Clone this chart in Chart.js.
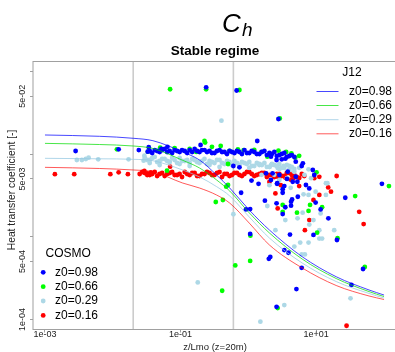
<!DOCTYPE html>
<html lang="en">
<head>
<meta charset="UTF-8">
<title>Ch - Stable regime</title>
<script src="https://cdn.jsdelivr.net/npm/chart.js"></script>
<style>
  html, body { margin: 0; padding: 0; background: #fff; overflow: hidden; }
  #wrap { width: 400px; height: 352px; }
</style>
</head>
<body>
<div id="wrap"><canvas id="chart" width="400" height="352"></canvas></div>
<script>
// ---- data ----
const seriesNames = ['z0=0.98', 'z0=0.66', 'z0=0.29', 'z0=0.16'];
const seriesColors = ['#0000ff', '#00ff00', '#add8e6', '#ff0000'];
const curveColors = ['rgba(0,0,255,0.72)', 'rgba(0,220,0,0.72)', 'rgba(150,200,225,0.75)', 'rgba(255,0,0,0.65)'];

const xTickValues = [0.001, 0.1, 10];
const xTickLabels = ['1e-03', '1e-01', '1e+01'];
const yTickValues = [1e-4, 5e-4, 1e-3, 5e-3, 1e-2, 5e-2, 1e-1];
const yTickLabels = ['1e-04', '5e-04', '', '5e-03', '', '5e-02', ''];
const refLines = [0.02, 0.6];

// J12 model curves
const curveX = [0.001, 0.0064, 0.02, 0.039, 0.107, 0.19, 0.34, 0.53, 1.03, 2.04, 6.2, 19.7, 60, 100];
const j12_098 = [0.01698, 0.01637, 0.01549, 0.01449, 0.0106, 0.00846, 0.00557, 0.00388, 0.0021, 0.001205, 0.000573, 0.000328, 0.000227, 0.000197];
const j12_066 = [0.01345, 0.01302, 0.0125, 0.01166, 0.0084, 0.00678, 0.00485, 0.00357, 0.00194, 0.00111, 0.000537, 0.000312, 0.000217, 0.000189];
const j12_029 = [0.00887, 0.00875, 0.00863, 0.0083, 0.00641, 0.00528, 0.00403, 0.00311, 0.00173, 0.000964, 0.000481, 0.000287, 0.000206, 0.000181];
const j12_016 = [0.0069, 0.00668, 0.00641, 0.00611, 0.00446, 0.00388, 0.00319, 0.00255, 0.00146, 0.000794, 0.000419, 0.000257, 0.000192, 0.000174];

// COSMO points [z/Lmo, Ch]
const cosmo_098 = [
  [0.00283,0.01087],[0.0122,0.0114],[0.0242,0.01117],[0.0327,0.01066],[0.0339,0.0121],[0.052,0.0115],[0.064,0.0122],
  [0.035,0.01087],[0.0381,0.01028],[0.0415,0.01117],[0.0451,0.01087],[0.0491,0.01057],[0.0534,0.01117],[0.0582,0.01149],
  [0.0633,0.01057],[0.0689,0.01087],[0.075,0.01028],[0.0816,0.01117],[0.0888,0.01087],[0.0967,0.01057],[0.105,0.01117],
  [0.115,0.01087],[0.125,0.01028],[0.136,0.01117],[0.148,0.01057],[0.161,0.01149],[0.175,0.01087],[0.19,0.01057],
  [0.207,0.01117],[0.225,0.01117],[0.245,0.01057],[0.267,0.01087],[0.29,0.01028],[0.316,0.01028],[0.344,0.01087],
  [0.375,0.01117],[0.408,0.01057],[0.444,0.01057],[0.483,0.01],[0.526,0.01087],[0.572,0.01057],[0.622,0.01028],
  [0.677,0.01087],[0.737,0.01057],[0.802,0.01],[0.873,0.01117],[0.95,0.01028],[1.03,0.01028],[1.12,0.01087],
  [1.22,0.01057],[1.33,0.01],[1.45,0.01],[1.58,0.01057],[1.72,0.01087],[1.87,0.00972],[2.04,0.01028],[2.22,0.01],
  [2.41,0.01057],[2.62,0.00946],[2.86,0.00972],[3.11,0.01],[3.38,0.01028],[3.68,0.0092],[4.01,0.00946],[4.36,0.00972],[4.75,0.0092],
  [0.197,0.01285],[0.238,0.064],[0.67,0.0586],[1.35,0.01437],[0.6,0.00716],[0.737,0.0069],[1.11,0.00477],[1.41,0.00436],
  [2.77,0.0265],[2.15,0.00928],[2.6,0.00846],[3.1,0.00863],[3.5,0.00877],[4.99,0.00807],[6.1,0.00716],[7.89,0.00384],
  [93,0.00436],[2.6,0.00253],[4.25,0.00237],[4.4,0.00282],[5.35,0.00304],[9.8,0.00259],[3.2,0.00188],[11.6,0.00214],
  [15.1,0.00167],[4.1,0.00106],[9.1,0.00105],[20.2,0.000912],[3.38,0.00069],[3.9,0.00064],[2.1,0.00057],[6.1,0.00042],
  [49,0.000407],[33,0.000261],[5.1,0.000233],[2.6,0.000142],[26.8,0.00296],[0.78,0.0034],[0.92,0.00214],[1.06,0.00216],
  [1.75,0.00273],[1.06,0.00108],[2.0,0.00054],[1.82,0.00584],[2.15,0.00485],[2.64,0.00436],[3.2,0.00375],[3.7,0.00499],
  [4.5,0.00462],[4.25,0.00265],[3.5,0.00227],[6.35,0.00772],[8.9,0.00641],[9.35,0.00557],[7.05,0.00422],[4.99,0.00531],
  [3.2,0.0034],[2.27,0.00584],[2.86,0.00557],[3.8,0.00611],[2.66,0.00444],[3.38,0.0041],[5.27,0.00462]
];
const cosmo_066 = [
  [0.0115,0.0114],[0.033,0.01066],[0.05,0.0119],[0.07,0.0607],[0.238,0.0607],[0.737,0.0594],[0.225,0.01437],[0.23,0.01375],
  [0.39,0.0125],[0.7,0.0114],[0.85,0.01117],[0.063,0.00629],[0.5,0.00422],[0.47,0.00403],[0.5,0.00757],[1.9,0.00928],
  [2.77,0.01096],[4.3,0.0102],[4.9,0.00902],[10.1,0.006],[118,0.0041],[37.5,0.0031],[3.2,0.00242],[3.2,0.002],
  [12.2,0.00227],[8.1,0.00242],[5.2,0.00195],[7.7,0.00205],[10.3,0.00112],[20.6,0.00096],[52,0.00043],[2.7,0.000137],
  [0.33,0.00263],[0.42,0.00278],[1.06,0.00051],[0.64,0.00045],[0.41,0.000222],[1.07,0.00103],[2.9,0.0269],
  [0.0816,0.0118],[0.136,0.0115],[0.29,0.0122],[0.526,0.0109],[1.22,0.0112],[1.55,0.0106],[3.6,0.0106],[5.6,0.0095],[0.17,0.0106]
];
const cosmo_029 = [
  [0.00295,0.00846],[0.0035,0.00846],[0.004,0.0087],[0.0044,0.00902],[0.0061,0.00863],[0.0171,0.00863],[0.0285,0.0083],[0.0292,0.00954],
  [0.0296,0.00895],[0.035,0.00846],[0.0415,0.0092],[0.0491,0.00823],[0.0582,0.0087],[0.0689,0.008],[0.0816,0.00846],[0.0967,0.00895],
  [0.115,0.00823],[0.136,0.00778],[0.161,0.00846],[0.19,0.008],[0.225,0.0087],[0.267,0.00823],[0.316,0.00778],[0.375,0.00846],
  [0.444,0.00757],[0.526,0.008],[0.622,0.00823],[0.737,0.00736],[0.873,0.00778],[1.03,0.008],[1.22,0.00716],[1.45,0.00757],
  [1.72,0.00778],[2.04,0.00697],[2.41,0.00736],[2.86,0.00757],[3.38,0.00678],[4.01,0.00716],[4.75,0.00659],
  [0.0322,0.00846],[0.0381,0.00895],[0.0451,0.008],[0.0534,0.0087],[0.0633,0.00823],[0.075,0.00895],[0.0888,0.00778],[0.105,0.00823],
  [0.125,0.00846],[0.148,0.0087],[0.175,0.008],[0.207,0.00823],[0.245,0.00757],[0.29,0.008],[0.344,0.00846],[0.408,0.00778],
  [0.483,0.00823],[0.572,0.00736],[0.677,0.00778],[0.802,0.008],[0.95,0.00757],[1.12,0.00716],[1.33,0.00778],[1.58,0.00736],
  [1.87,0.00697],[2.22,0.00757],[2.62,0.00716],[3.11,0.00678],[3.68,0.00736],[4.36,0.00697],
  [0.035,0.00778],[0.0491,0.00736],[0.0689,0.008],[0.0967,0.00757],[0.136,0.00716],[0.19,0.00778],[0.267,0.00736],[0.375,0.00697],
  [0.526,0.00757],[0.737,0.00716],[1.03,0.00678],[1.45,0.00736],[2.04,0.00697],[2.86,0.00659],[4.01,0.00641],
  [0.4,0.0253],[7.7,0.00653],[13.9,0.00444],[6.5,0.00325],[7.7,0.0032],[9.8,0.0035],[13.9,0.0032],[11.6,0.00191],
  [6.3,0.00195],[3.5,0.00159],[9.1,0.00159],[7.9,0.0014],[5.3,0.00167],[11.1,0.0012],[18.4,0.0012],[11.1,0.00095],
  [12.2,0.00095],[5.8,0.00085],[7.7,0.00085],[4.75,0.00076],[6.1,0.00061],[6.8,0.00061],[2.5,0.0012],[32,0.00018],
  [3.38,0.000149],[0.6,0.00187],[0.179,0.00028],[1.5,0.000094],[1.9,0.00235],
  [2.17,0.00736],[2.7,0.00678],[3.3,0.00716],[4.0,0.00641],[2.4,0.0056],[3.7,0.0051],[4.75,0.0061],[5.6,0.0068],
  [6.7,0.0056],[2.86,0.00485],[2.04,0.0042],[4.2,0.0039],[1.56,0.0056],[8.4,0.0051],[14.6,0.00444]
];
const cosmo_016 = [
  [0.0014,0.0057],[0.0027,0.0057],[0.0092,0.0057],[0.0122,0.006],[0.0167,0.0057],[0.0292,0.00623],[0.0327,0.00584],[0.0365,0.006],[0.07,0.00703],
  [0.0249,0.00573],[0.0296,0.00589],[0.035,0.00557],[0.0415,0.00606],[0.0491,0.00573],[0.0582,0.00542],[0.0689,0.00589],[0.0816,0.00557],
  [0.0967,0.00573],[0.115,0.00606],[0.136,0.00557],[0.161,0.00589],[0.19,0.00542],[0.225,0.00573],[0.267,0.00589],[0.316,0.00557],
  [0.375,0.00606],[0.444,0.00573],[0.526,0.00542],[0.622,0.00589],[0.737,0.00557],[0.873,0.00573],[1.03,0.00606],[1.22,0.00542],
  [1.45,0.00573],[1.72,0.00589],[2.04,0.00557],[2.41,0.00527],[2.86,0.00573],[3.38,0.00542],[4.01,0.00589],[4.75,0.00557],
  [5.62,0.00513],[6.66,0.00542],
  [0.0272,0.00606],[0.0322,0.00557],[0.0381,0.00573],[0.0451,0.00542],[0.0534,0.00589],[0.0633,0.00573],[0.075,0.00606],[0.0888,0.00557],
  [0.105,0.00527],[0.125,0.00573],[0.148,0.00589],[0.175,0.00542],[0.207,0.00573],[0.245,0.00606],[0.29,0.00557],[0.344,0.00589],
  [0.408,0.00527],[0.483,0.00573],[0.572,0.00557],[0.677,0.00589],[0.802,0.00542],[0.95,0.00606],[1.12,0.00573],[1.33,0.00557],
  [1.58,0.00589],[1.87,0.00527],[2.22,0.00557],[2.62,0.00573],[3.11,0.00542],[3.68,0.00589],[4.36,0.00557],[5.16,0.00527],[6.12,0.00573],
  [2.5,0.00334],[11.1,0.0032],[16.5,0.0035],[43,0.002],[50,0.00142],[6.8,0.0012],[2.7,0.0022],[7.9,0.00159],[9.1,0.00278],
  [28,0.0000838],[11.1,0.0053],[20,0.00542],[15,0.00394],[9.35,0.0051],[2.7,0.0053],[3.5,0.0052],[4.6,0.0051],
  [2.04,0.0046],[3.0,0.0042],[4.2,0.0049],[5.6,0.0041]
];

const curves = [j12_098, j12_066, j12_029, j12_016];
const cosmo = [cosmo_098, cosmo_066, cosmo_029, cosmo_016];

// ---- chart ----
const FONT = '"Liberation Sans", Arial, Helvetica, sans-serif';

const datasets = [];
curves.forEach((ys, i) => {
  datasets.push({
    label: 'J12 ' + seriesNames[i],
    data: curveX.map((x, k) => ({ x: x, y: ys[k] })),
    showLine: true,
    borderColor: curveColors[i],
    borderWidth: 1,
    pointRadius: 0,
    cubicInterpolationMode: 'monotone',
    order: 0
  });
});
cosmo.forEach((pts, i) => {
  datasets.push({
    label: 'COSMO ' + seriesNames[i],
    data: pts.map(p => ({ x: p[0], y: p[1] })),
    showLine: false,
    backgroundColor: seriesColors[i],
    borderColor: seriesColors[i],
    pointRadius: 2.4,
    pointBorderWidth: 0,
    order: i + 1
  });
});

const decorations = {
  id: 'decorations',
  beforeDatasetsDraw(chart) {
    const { ctx, chartArea: a, scales: { x } } = chart;
    ctx.save();
    ctx.strokeStyle = '#cccccc';
    ctx.lineWidth = 1.6;
    refLines.forEach(v => {
      const px = x.getPixelForValue(v);
      ctx.beginPath();
      ctx.moveTo(px, a.top);
      ctx.lineTo(px, a.bottom);
      ctx.stroke();
    });
    ctx.restore();
  },
  afterDraw(chart) {
    const { ctx, chartArea: a, scales: { y } } = chart;
    ctx.save();
    // plot frame
    ctx.strokeStyle = '#a0a0a0';
    ctx.lineWidth = 1;
    ctx.strokeRect(a.left, a.top, a.right - a.left + 10, a.bottom - a.top);

    // titles
    ctx.fillStyle = '#000';
    ctx.textBaseline = 'alphabetic';
    ctx.textAlign = 'left';
    ctx.font = 'italic 26px ' + FONT;
    ctx.fillText('C', 222, 31.5);
    ctx.font = 'italic 19px ' + FONT;
    ctx.fillText('h', 242, 35.5);
    ctx.font = 'bold 13.5px ' + FONT;
    ctx.textAlign = 'center';
    ctx.fillText('Stable regime', 215, 54.5);

    // axis titles
    ctx.fillStyle = '#222';
    ctx.textBaseline = 'middle';
    ctx.font = '9.5px ' + FONT;
    ctx.fillText('z/Lmo (z=20m)', 215, 347.5);
    ctx.save();
    ctx.translate(12.5, 190);
    ctx.rotate(-Math.PI / 2);
    ctx.font = '10.3px ' + FONT;
    ctx.fillText('Heat transfer coefficient [-]', 0, 0);
    ctx.restore();

    // y tick labels (rotated, like R)
    ctx.font = '9px ' + FONT;
    y.ticks.forEach((t, i) => {
      const lab = yTickLabels[i];
      if (!lab) return;
      const py = y.getPixelForValue(t.value);
      ctx.save();
      ctx.translate(22.5, py);
      ctx.rotate(-Math.PI / 2);
      ctx.fillText(lab, 0, 0);
      ctx.restore();
    });

    // J12 legend (lines)
    ctx.fillStyle = '#000';
    ctx.font = '12px ' + FONT;
    ctx.textAlign = 'center';
    ctx.fillText('J12', 352, 72.5);
    ctx.textAlign = 'left';
    const jRows = [91.5, 105.5, 119.7, 133.8];
    seriesNames.forEach((name, i) => {
      ctx.strokeStyle = curveColors[i];
      ctx.lineWidth = 1;
      ctx.beginPath();
      ctx.moveTo(316.5, jRows[i]);
      ctx.lineTo(338.5, jRows[i]);
      ctx.stroke();
      ctx.fillText(name, 349, jRows[i]);
    });

    // COSMO legend (points)
    ctx.fillText('COSMO', 45.5, 253.3);
    const cRows = [272.3, 286.7, 301, 315.4];
    seriesNames.forEach((name, i) => {
      ctx.fillStyle = seriesColors[i];
      ctx.beginPath();
      ctx.arc(43.2, cRows[i], 2.4, 0, Math.PI * 2);
      ctx.fill();
      ctx.fillStyle = '#000';
      ctx.fillText(name, 55, cRows[i]);
    });
    ctx.restore();
  }
};

new Chart(document.getElementById('chart'), {
  type: 'scatter',
  data: { datasets: datasets },
  plugins: [decorations],
  options: {
    responsive: false,
    animation: false,
    devicePixelRatio: 1,
    layout: { padding: { top: 61.5, right: 3, left: 0, bottom: 0 } },
    plugins: { legend: { display: false }, tooltip: { enabled: false }, title: { display: false } },
    scales: {
      x: {
        type: 'logarithmic',
        min: 0.000666,
        max: 150,
        afterBuildTicks: s => { s.ticks = xTickValues.map(v => ({ value: v })); },
        afterFit: s => { s.height = 22.5; },
        ticks: {
          autoSkip: false,
          maxRotation: 0,
          padding: -3,
          color: '#222',
          font: { family: FONT, size: 9 },
          callback: (v, i) => xTickLabels[i]
        },
        grid: { drawOnChartArea: false, drawTicks: true, tickLength: 3, color: '#a0a0a0' },
        border: { display: false }
      },
      y: {
        type: 'logarithmic',
        min: 7.55e-5,
        max: 0.1314,
        afterBuildTicks: s => { s.ticks = yTickValues.map(v => ({ value: v })); },
        afterFit: s => { s.width = 33; },
        ticks: { display: false, autoSkip: false },
        grid: { drawOnChartArea: false, drawTicks: true, tickLength: 3, color: '#a0a0a0' },
        border: { display: false }
      }
    }
  }
});
</script>
</body>
</html>
